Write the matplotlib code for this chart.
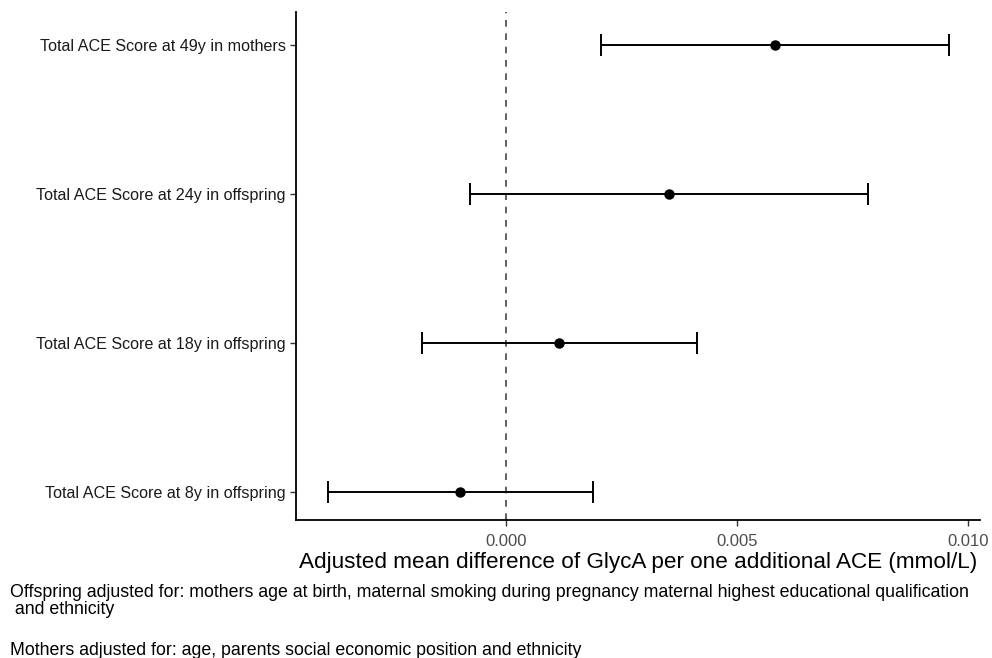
import matplotlib.pyplot as plt

plt.rcParams['font.family'] = ['Liberation Sans', 'DejaVu Sans']

# data
labels = ['Total ACE Score at 8y in offspring',
          'Total ACE Score at 18y in offspring',
          'Total ACE Score at 24y in offspring',
          'Total ACE Score at 49y in mothers']
estimate = [-0.00100, 0.00115, 0.00353, 0.00582]
lower = [-0.00385, -0.00182, -0.00078, 0.00206]
upper = [0.00188, 0.00413, 0.00784, 0.00959]
xticks = [0.000, 0.005, 0.010]
xticklabels = ['0.000', '0.005', '0.010']

note_offspring = ("Offspring adjusted for: mothers age at birth, maternal smoking during pregnancy "
                  "maternal highest educational qualification\n and ethnicity")
note_mothers = "Mothers adjusted for: age, parents social economic position and ethnicity"

fig = plt.figure(figsize=(9.92, 6.58), dpi=100)
ax = fig.add_axes([0.2984, 0.2097, 0.6896, 0.7721])

ypos = list(range(1, len(labels) + 1))
err = [[e - l for e, l in zip(estimate, lower)],
       [u - e for u, e in zip(upper, estimate)]]
ax.axvline(0, color='#444444', linestyle=(0, (4, 4)), linewidth=1.2, zorder=1)
ax.errorbar(estimate, ypos, xerr=err, fmt='o', color='black', ecolor='black',
            markersize=6.5, elinewidth=1.4, capsize=8, capthick=1.4, zorder=3)

ax.set_xlim(-0.00455, 0.01026)
ax.set_ylim(0.81, 4.22)
ax.set_yticks(ypos)
ax.set_yticklabels(labels, fontsize=11.6, color='#1a1a1a')
ax.set_xticks(xticks)
ax.set_xticklabels(xticklabels, fontsize=12, color='#4d4d4d')
ax.set_xlabel('Adjusted mean difference of GlycA per one additional ACE (mmol/L)',
              fontsize=16.2, labelpad=2.5)
ax.spines['top'].set_visible(False)
ax.spines['right'].set_visible(False)
for s in ['left', 'bottom']:
    ax.spines[s].set_linewidth(1.3)
ax.tick_params(length=4, width=1, color='#333333')
ax.tick_params(axis='x', pad=6)

fig.text(0.01, 0.0859, note_offspring, fontsize=12.8, va='center', ha='left',
         linespacing=1.0)
fig.text(0.01, 0.011, note_mothers, fontsize=12.8, va='center', ha='left')

plt.savefig('out.png', dpi=100)
